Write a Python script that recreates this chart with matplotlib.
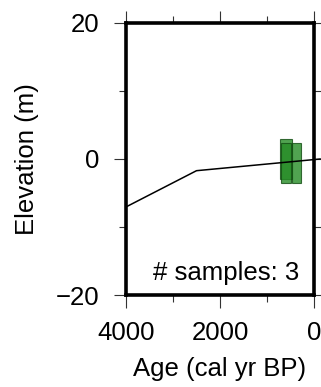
import matplotlib
matplotlib.use('Agg')
import matplotlib.pyplot as plt
from matplotlib.patches import Rectangle
from matplotlib.ticker import MultipleLocator

plt.rcParams['font.family'] = ['Liberation Sans', 'DejaVu Sans']

# sea-level curve
curve_age = [4000, 2500, -130]
curve_elev = [-7.05, -1.72, 0.0]

# samples: age range and elevation range
sample_age_min = [470, 490, 270]
sample_age_max = [720, 700, 470]
sample_elev_min = [-3.0, -3.6, -3.6]
sample_elev_max = [2.95, 2.4, 2.4]

fig = plt.figure(figsize=(3.21, 3.87), dpi=100)
ax = fig.add_axes([0.3925, 0.2377, 0.5857, 0.7029])

ax.plot(curve_age, curve_elev, color='black', lw=1.1, clip_on=False, zorder=3)

for a0, a1, e0, e1 in zip(sample_age_min, sample_age_max, sample_elev_min, sample_elev_max):
    ax.add_patch(Rectangle((a0, e0), a1 - a0, e1 - e0, facecolor=(0.15, 0.55, 0.15),
                           edgecolor='#124d12', lw=0.8, alpha=0.8, zorder=2))

ax.set_xlim(4000, 0)
ax.set_ylim(-20, 20)
ax.xaxis.set_major_locator(MultipleLocator(2000))
ax.xaxis.set_minor_locator(MultipleLocator(1000))
ax.yaxis.set_major_locator(MultipleLocator(20))
ax.yaxis.set_minor_locator(MultipleLocator(10))

ax.tick_params(which='both', direction='out', top=True, right=True, width=0.8,
               labelsize=18.5, color='#333333')
ax.tick_params(which='major', length=9)
ax.tick_params(which='minor', length=5)
ax.tick_params(axis='x', pad=10)
ax.tick_params(axis='y', pad=10.5)
for s in ax.spines.values():
    s.set_linewidth(2.6)
    s.set_zorder(4)

ax.set_xlabel('Age (cal yr BP)', fontsize=18.5, labelpad=8)
ax.set_ylabel('Elevation (m)', fontsize=18.5, labelpad=12)

ax.text(0.92, 0.055, '# samples: 3', transform=ax.transAxes, ha='right',
        va='baseline', fontsize=18.5)

fig.savefig('out.png', dpi=100)
